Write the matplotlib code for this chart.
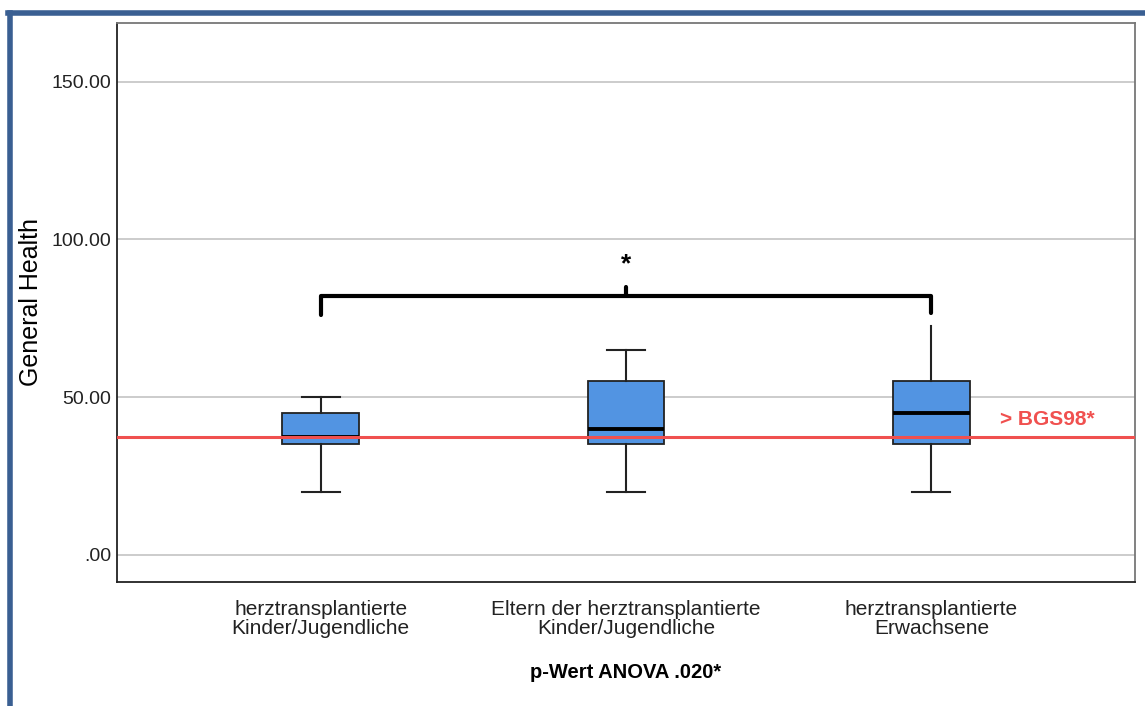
import matplotlib
matplotlib.use("Agg")
import matplotlib.pyplot as plt
from matplotlib.lines import Line2D

plt.rcParams['font.family'] = ['Liberation Sans', 'DejaVu Sans']

# ======================== Daten ========================
gruppen = ['herztransplantierte\nKinder/Jugendliche',
           'Eltern der herztransplantierte\nKinder/Jugendliche',
           'herztransplantierte\nErwachsene']
whisker_lo = [20.0, 20.0, 20.0]
q1 = [35.0, 35.0, 35.0]
median = [37.5, 40.0, 45.0]
q3 = [45.0, 55.0, 55.0]
whisker_hi = [50.0, 65.0, 72.5]
bgs98 = 37.5
yticks = [0, 50, 100, 150]
ytick_labels = ['.00', '50.00', '100.00', '150.00']

# Signifikanz-Klammer (Gruppe 1 vs 3)
klammer_y = 82.0
klammer_ende = 76.0
klammer_spitze = 85.0
stern_y = 92.0

box_farbe = '#5294e2'
rot = '#f0504f'

fig = plt.figure(figsize=(11.45, 7.06), dpi=100)
ax = fig.add_axes([117 / 1145, 1 - 582 / 706, (1135 - 117) / 1145, (582 - 23) / 706])

stats = []
for i in range(len(gruppen)):
    stats.append(dict(whislo=whisker_lo[i], q1=q1[i], med=median[i],
                      q3=q3[i], whishi=whisker_hi[i], fliers=[]))

bp = ax.bxp(stats, positions=range(len(gruppen)), widths=0.25, patch_artist=True,
            boxprops=dict(facecolor=box_farbe, edgecolor='#222222', linewidth=1.3),
            medianprops=dict(color='black', linewidth=2.8),
            whiskerprops=dict(color='#222222', linewidth=1.5),
            capprops=dict(color='#222222', linewidth=1.5), capwidths=0.125,
            zorder=3)
# oberer Whisker der dritten Gruppe ohne Querstrich
bp['caps'][5].set_visible(False)

# Referenzlinie BGS98
ax.axhline(bgs98, color=rot, linewidth=2.2, zorder=4)
ax.text(2.225, 42.8, '> BGS98*', color=rot, fontsize=15, fontweight='bold',
        va='center', ha='left', zorder=5)

# Klammer
ax.plot([0, 0, 2, 2], [klammer_ende, klammer_y, klammer_y, klammer_ende + 0.8],
        color='black', linewidth=3, solid_capstyle='round', solid_joinstyle='round', zorder=5)
ax.plot([1, 1], [klammer_y, klammer_spitze], color='black', linewidth=3,
        solid_capstyle='round', zorder=5)
ax.text(1, stern_y, '*', fontsize=19, fontweight='bold', ha='center', va='center')

ax.set_xlim(-0.667, 2.667)
ax.set_ylim(-8.6, 168.6)
ax.set_yticks(yticks)
ax.set_yticklabels(ytick_labels)
ax.set_xticks(range(len(gruppen)))
ax.set_xticklabels(gruppen, linespacing=1.0)
ax.tick_params(axis='both', length=0, labelcolor='#222222')
ax.tick_params(axis='y', pad=4, labelsize=14)
ax.tick_params(axis='x', pad=13, labelsize=15)
ax.yaxis.grid(True, color='#c8c8c8', linewidth=1.3, zorder=0)
ax.set_axisbelow(True)

for side in ['left', 'bottom']:
    ax.spines[side].set_color('#222222')
for side in ['top', 'right']:
    ax.spines[side].set_color('#777777')
for s in ax.spines.values():
    s.set_linewidth(1.3)

ax.set_ylabel('General Health', fontsize=18, color='black')
ax.yaxis.set_label_coords(-0.073, 0.5)
ax.set_xlabel('p-Wert ANOVA .020*', fontsize=14.5, fontweight='bold')
ax.xaxis.set_label_coords(0.5, -0.145)

# blauer Rahmen links und oben
rahmen = '#3a5f92'
fig.lines.append(Line2D([10 / 1145, 10 / 1145], [0, 1 - 13 / 706], transform=fig.transFigure,
                        color=rahmen, linewidth=4))
fig.lines.append(Line2D([8 / 1145, 1], [1 - 13 / 706, 1 - 13 / 706], transform=fig.transFigure,
                        color=rahmen, linewidth=4))

plt.savefig('out.png', dpi=100)
plt.close()
